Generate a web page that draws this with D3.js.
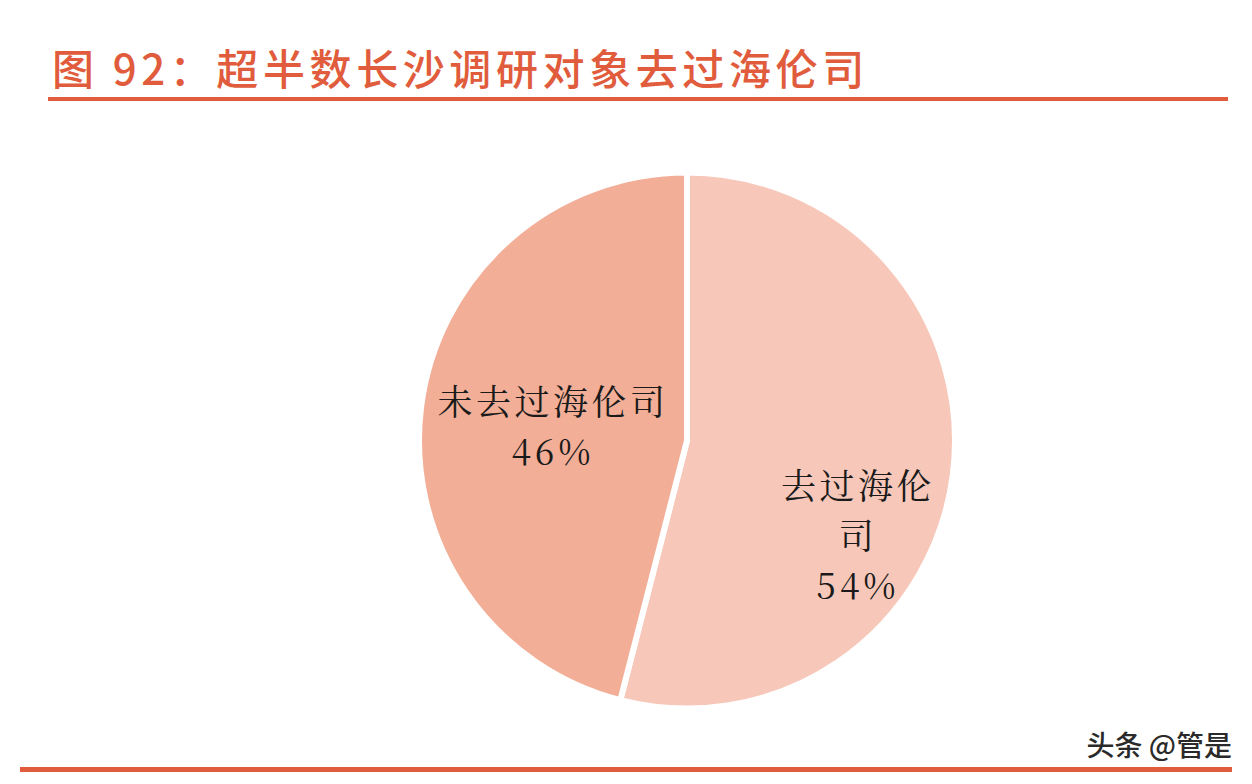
<!DOCTYPE html>
<html><head><meta charset="utf-8">
<script src="https://cdn.jsdelivr.net/npm/d3@7/dist/d3.min.js"></script>
<style>body{margin:0;background:#fff;}svg{display:block;}</style>
</head><body>
<svg id="chart" width="1252" height="784"></svg>
<script>
const title = "图 92：超半数长沙调研对象去过海伦司";
const categories = ["去过海伦司", "未去过海伦司"];
const values = [54, 46];
const labelLines = [["去过海伦", "司", "54%"], ["未去过海伦司", "46%"]];
const colors = ["#f7c8b9", "#f2ae97"];
const watermark = "头条 @管是";

const svg = d3.select("#chart");
const accent = "#e05c3c";

svg.append("text").attr("x", 52).attr("y", 85)
  .attr("font-family", "'Noto Sans CJK SC', sans-serif").attr("font-weight", 500)
  .attr("font-size", 42).attr("letter-spacing", 4.6).attr("fill", accent).text(title);
svg.append("rect").attr("x", 48).attr("y", 97).attr("width", 1180).attr("height", 4).attr("fill", accent);
svg.append("rect").attr("x", 20).attr("y", 767).attr("width", 1212).attr("height", 5).attr("fill", accent);
svg.append("text").attr("x", 1232).attr("y", 756).attr("text-anchor", "end")
  .attr("font-family", "'Noto Sans CJK SC', sans-serif").attr("font-weight", 500)
  .attr("font-size", 28).attr("fill", "#2a2a2a").text(watermark);

const cx = 687, cy = 440.5, r = 268;
const pie = d3.pie().sort(null).value(d => d)(values);
const arc = d3.arc().innerRadius(0).outerRadius(r);
const g = svg.append("g").attr("transform", `translate(${cx},${cy})`);
g.selectAll("path").data(pie).join("path")
  .attr("d", arc).attr("fill", (d, i) => colors[i])
  .attr("stroke", "#fff").attr("stroke-width", 6).attr("stroke-linejoin", "round");

const labelPos = [[171, 96], [-134, -13]];
pie.forEach((d, i) => {
  const lines = labelLines[i];
  const t = g.append("text").attr("text-anchor", "middle")
    .attr("font-family", "'Noto Serif CJK SC', 'Noto Sans CJK SC', serif")
    .attr("font-size", 35).attr("fill", "#1a1a1a");
  const n = lines.length;
  lines.forEach((ln, j) => {
    t.append("tspan").attr("x", labelPos[i][0])
      .attr("y", labelPos[i][1] + (j - (n - 1) / 2) * 50 + 12)
      .attr("letter-spacing", /%/.test(ln) ? 4 : 3.5)
      .text(ln);
  });
});
</script>
</body></html>
